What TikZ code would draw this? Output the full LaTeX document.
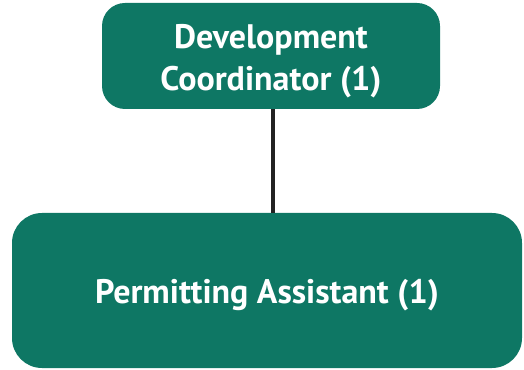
\documentclass[tikz,border=0pt]{standalone}
\usepackage{fontspec}
\setmainfont{PT Sans}
\definecolor{teal}{HTML}{0E7764}
\definecolor{linec}{HTML}{222222}
\newcommand{\lowered}[1]{\raisebox{-5pt}[\height][\depth]{\setlength{\tabcolsep}{0pt}\begin{tabular}{c}#1\end{tabular}}}
\begin{document}
\begin{tikzpicture}[x=1pt,y=1pt,
  box/.style={fill=teal, draw=none, text=white, font=\bfseries\fontsize{34}{42}\selectfont, align=center, inner sep=0pt},
  conn/.style={draw=linec, line width=4.5pt}]
\useasboundingbox (0,0) rectangle (524,369);
\node[box, rounded corners=23pt, minimum width=338pt, minimum height=106pt] (dc) at (271,313) {\lowered{Development\\Coordinator (1)}};
\node[box, rounded corners=30pt, minimum width=510pt, minimum height=155pt] (pa) at (267,78.5) {\lowered{Permitting Assistant (1)}};
\draw[conn] (dc.south -| 273,0) -- (pa.north -| 273,0);
\end{tikzpicture}
\end{document}
